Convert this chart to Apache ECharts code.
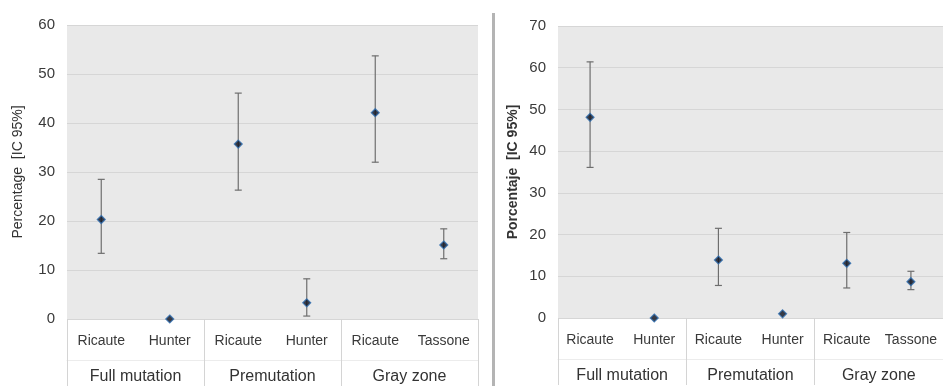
<!DOCTYPE html>
<html><head><meta charset="utf-8">
<script src="https://cdn.jsdelivr.net/npm/echarts@6/dist/echarts.min.js"></script>
<style>html,body{margin:0;padding:0;background:#fff}#c{width:943px;height:386px}</style>
</head><body><div id="c"></div>
<script>
const categories = ['Ricaute','Hunter','Ricaute','Hunter','Ricaute','Tassone'];
const groups = ['Full mutation','Premutation','Gray zone'];
// Left panel (English)
const leftValue = [20.3, 0, 35.7, 3.3, 42.1, 15.1];
const leftLow   = [13.4, 0, 26.3, 0.6, 32.0, 12.3];
const leftHigh  = [28.5, 0, 46.1, 8.2, 53.7, 18.4];
// Right panel (Spanish)
const rightValue = [48.1, 0, 13.9, 1.0, 13.1, 8.7];
const rightLow   = [36.1, 0, 7.8, 1.0, 7.2, 6.8];
const rightHigh  = [61.4, 0, 21.5, 1.0, 20.5, 11.2];
const leftTicks = [0,10,20,30,40,50,60];
const rightTicks = [0,10,20,30,40,50,60,70];

const FONT = '"Liberation Sans",Arial,sans-serif';
const chart = echarts.init(document.getElementById('c'));

function xAxes(gi) {
  return [
    { type:'category', gridIndex:gi, data:categories, position:'bottom',
      axisLine:{show:false}, axisTick:{show:false}, splitLine:{show:false},
      axisLabel:{interval:0, color:'#3a3a3a', fontSize:14, fontFamily:FONT, margin:15} },
    { type:'category', gridIndex:gi, data:groups, position:'bottom', offset:0,
      axisLine:{show:false},
      axisTick:{show:true, length:67, lineStyle:{color:'#d4d4d4', width:1}},
      axisLabel:{interval:0, color:'#333', fontSize:16, fontFamily:FONT, margin:50} },
    { type:'category', gridIndex:gi, data:groups, position:'bottom', offset:41,
      axisLine:{show:true, lineStyle:{color:'#ececec', width:1}},
      axisTick:{show:false}, axisLabel:{show:false} }
  ];
}
function yAxis(gi, ticks, name) {
  return { type:'value', gridIndex:gi, min:ticks[0], max:ticks[ticks.length-1], interval:10,
    name:name, nameLocation:'middle', nameGap:gi===0?42:38, nameRotate:90,
    nameTextStyle:{color:'#333', fontSize:14, fontFamily:FONT, fontWeight: gi===1?'bold':'normal'},
    axisLine:{show:false}, axisTick:{show:false},
    axisLabel:{color:'#3a3a3a', fontSize:15, fontFamily:FONT, margin:12},
    splitLine:{show:true, lineStyle:{color:'#d6d6d6', width:1}} };
}
function errSeries(gi, low, high) {
  return { type:'custom', xAxisIndex:gi*3, yAxisIndex:gi, z:2,
    data: low.map((l,i)=>[i, l, high[i]]),
    renderItem:function(params, api){
      const x = api.value(0);
      const lo = api.coord([x, api.value(1)]);
      const hi = api.coord([x, api.value(2)]);
      if (Math.abs(hi[1]-lo[1]) < 1) return null;
      const w = 3.5;
      const st = {stroke:'#6e6e6e', lineWidth:1.2};
      return {type:'group', children:[
        {type:'line', shape:{x1:lo[0],y1:lo[1],x2:hi[0],y2:hi[1]}, style:st},
        {type:'line', shape:{x1:lo[0]-w,y1:lo[1],x2:lo[0]+w,y2:lo[1]}, style:st},
        {type:'line', shape:{x1:hi[0]-w,y1:hi[1],x2:hi[0]+w,y2:hi[1]}, style:st}
      ]};
    }};
}
function ptSeries(gi, vals) {
  return { type:'scatter', xAxisIndex:gi*3, yAxisIndex:gi, z:3,
    symbol:'diamond', symbolSize:8,
    itemStyle:{color:'#0a0f1e', borderColor:'#2f6fb3', borderWidth:1.2},
    data: vals.map((v,i)=>[i, v]) };
}

chart.setOption({
  animation:false,
  backgroundColor:'#ffffff',
  grid:[
    {left:67, top:25, width:411, height:294, show:true, backgroundColor:'#e9e9e9', borderWidth:0},
    {left:558, top:26, width:390, height:292, show:true, backgroundColor:'#e9e9e9', borderWidth:0}
  ],
  xAxis:[...xAxes(0), ...xAxes(1)],
  yAxis:[yAxis(0, leftTicks, 'Percentage  [IC 95%]'), yAxis(1, rightTicks, 'Porcentaje  [IC 95%]')],
  series:[errSeries(0, leftLow, leftHigh), ptSeries(0, leftValue),
          errSeries(1, rightLow, rightHigh), ptSeries(1, rightValue)],
  graphic:[{type:'rect', shape:{x:492, y:13, width:3, height:373}, style:{fill:'#b4b4b4'}, silent:true}]
});
</script></body></html>
